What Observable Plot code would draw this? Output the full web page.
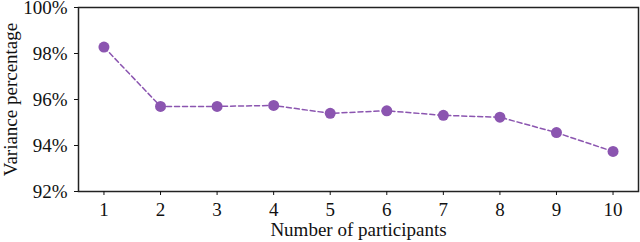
<!DOCTYPE html>
<html>
<head>
<meta charset="utf-8">
<script src="https://cdn.jsdelivr.net/npm/d3@7"></script>
<script src="https://cdn.jsdelivr.net/npm/@observablehq/plot@0.6"></script>
<style>
  html, body { margin: 0; padding: 0; background: #fff; }
</style>
</head>
<body>
<div id="chart"></div>
<script>
const participants = [1, 2, 3, 4, 5, 6, 7, 8, 9, 10];
const variance = [98.28, 95.70, 95.70, 95.74, 95.40, 95.51, 95.31, 95.23, 94.56, 93.74];
const yTicks = [92, 94, 96, 98, 100];

const data = participants.map((p, i) => ({p, v: variance[i]}));
const color = "#8b55b0";

const chart = Plot.plot({
  width: 640,
  height: 242,
  marginLeft: 78,
  marginRight: 2,
  marginTop: 7,
  marginBottom: 51,
  style: {fontFamily: "'Liberation Serif', 'Times New Roman', serif", fontSize: "19px", color: "#111", background: "#fff"},
  x: {domain: [0.55, 10.45]},
  y: {domain: [92, 100]},
  marks: [
    Plot.frame({stroke: "#222", strokeWidth: 1.5}),
    Plot.axisX({ticks: participants, tickSize: 4, tickPadding: 7, tickFormat: d => String(d),
      label: "Number of participants", labelAnchor: "center", labelArrow: "none", labelOffset: 44, fontSize: 19}),
    Plot.axisY({ticks: yTicks, tickSize: 4, tickPadding: 7, tickFormat: d => d + "%",
      label: "Variance percentage", labelAnchor: "center", labelArrow: "none", labelOffset: 75, fontSize: 19}),
    Plot.line(data, {x: "p", y: "v", stroke: color, strokeWidth: 1.5, strokeDasharray: "5,3"}),
    Plot.dot(data, {x: "p", y: "v", fill: color, r: 5.5})
  ]
});
document.getElementById("chart").appendChild(chart);
</script>
</body>
</html>
